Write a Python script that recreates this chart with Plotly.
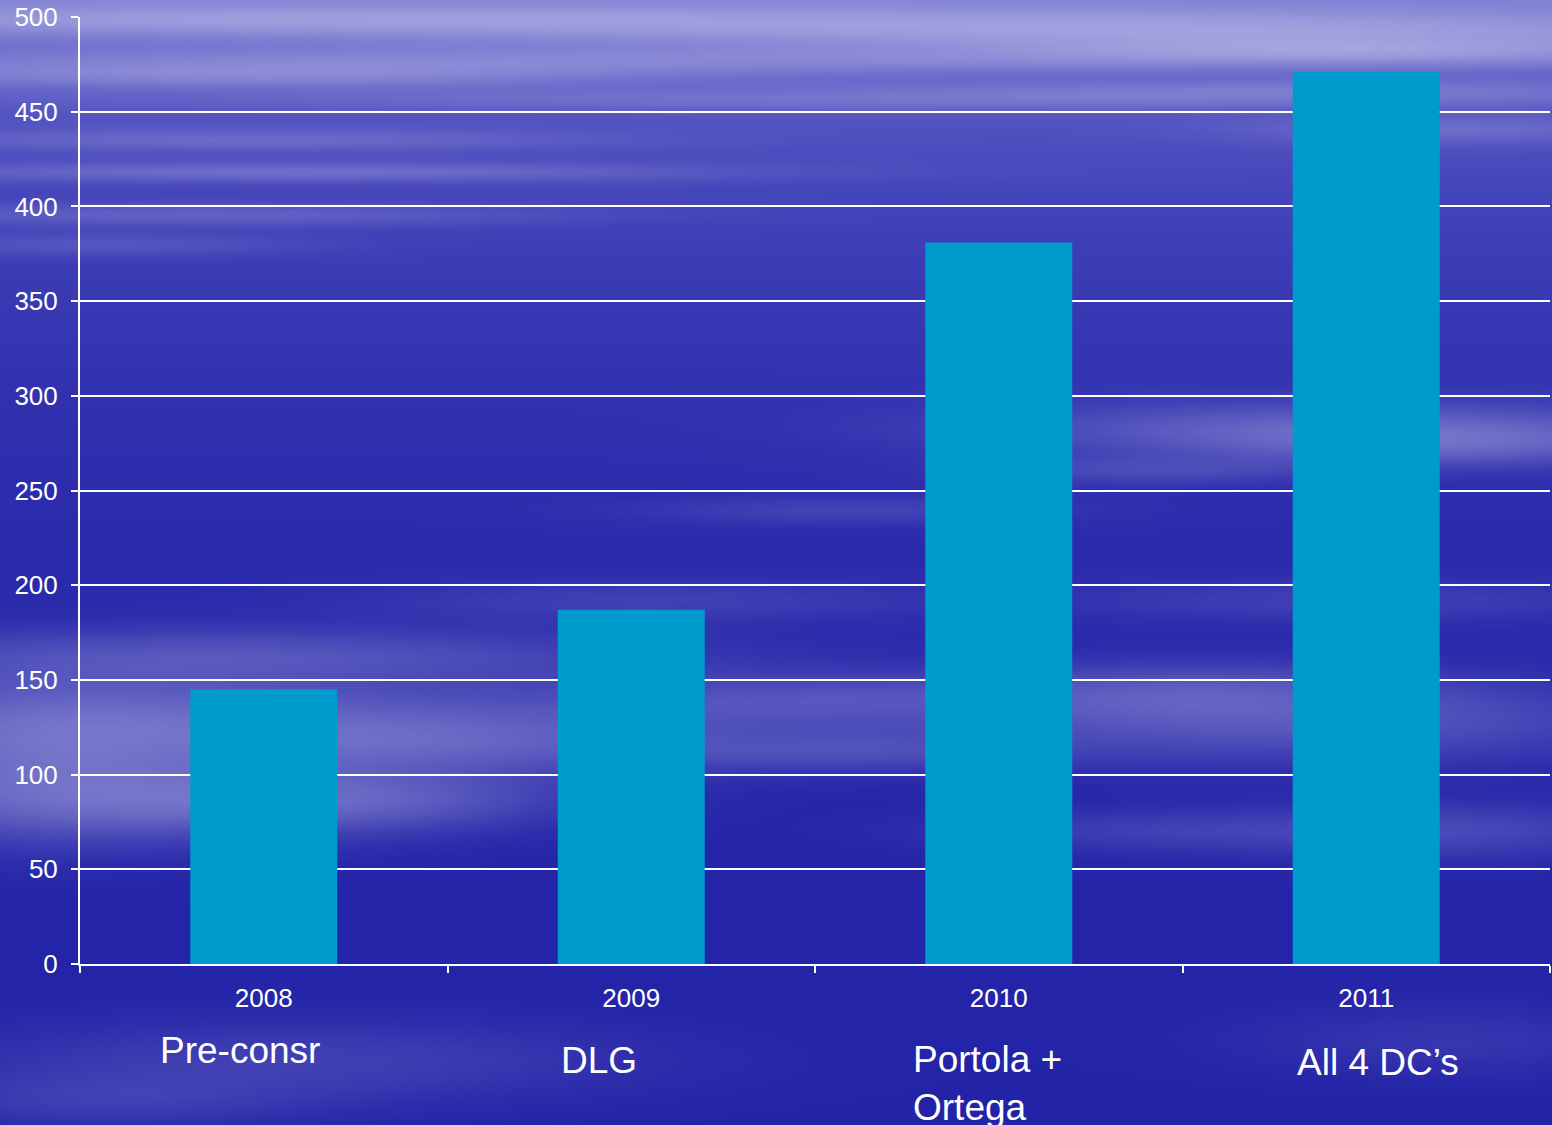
import base64
import struct
import zlib

import numpy as np
import plotly.graph_objects as go

# ---- data -------------------------------------------------------------
years = ["2008", "2009", "2010", "2011"]
values = [145, 187, 381, 471]
phase_labels = ["Pre-consr", "DLG", "Portola +<br>Ortega", "All 4 DC\u2019s"]

# ---- page geometry ----------------------------------------------------
W, H = 1552, 1125
M_L, M_R, M_T, M_B = 80, 2, 17, 161
PLOT_W = W - M_L - M_R
PLOT_H = H - M_T - M_B
FONT = "Arial, Liberation Sans, sans-serif"


def sky_background(scale=2):
    """Blue backdrop with soft horizontal cloud streaks, returned as a PNG data URI."""
    w, h = W // scale, H // scale
    ys = (np.arange(h) + 0.5) * scale
    xs = (np.arange(w) + 0.5) * scale
    X, Y = np.meshgrid(xs, ys)

    # vertical base gradient
    stops_y = [0, 120, 250, 450, 700, 1125]
    stops_c = [(92, 92, 200), (74, 74, 190), (60, 60, 182),
               (46, 46, 174), (38, 38, 170), (35, 35, 168)]
    base = np.stack([np.interp(ys, stops_y, [c[i] for c in stops_c]) for i in range(3)], axis=-1)
    base = np.broadcast_to(base[:, None, :], (h, w, 3)).astype(float)

    # cloud streaks: centre x, centre y, spread x, spread y, strength
    streaks = [
        (300, 20, 500, 12, 0.35), (1200, 30, 500, 15, 0.40), (700, 60, 600, 10, 0.25),
        (250, 75, 300, 10, 0.30), (1350, 50, 250, 10, 0.35), (900, 100, 500, 8, 0.20),
        (250, 140, 250, 8, 0.20), (300, 172, 300, 7, 0.25), (200, 215, 250, 8, 0.20),
        (100, 245, 150, 8, 0.15), (1450, 130, 150, 10, 0.20), (1300, 90, 300, 8, 0.20),
        (1350, 430, 250, 20, 0.30), (1450, 445, 150, 15, 0.20), (1150, 470, 120, 10, 0.15),
        (250, 655, 300, 20, 0.22), (150, 720, 250, 35, 0.30), (450, 740, 200, 25, 0.26),
        (150, 800, 200, 30, 0.28), (350, 800, 150, 20, 0.22), (30, 760, 120, 50, 0.22),
        (800, 700, 200, 20, 0.22), (850, 750, 150, 15, 0.18), (650, 600, 200, 15, 0.13),
        (1300, 720, 250, 30, 0.26), (1200, 690, 150, 20, 0.18), (1450, 830, 150, 20, 0.18),
        (1150, 830, 150, 15, 0.13), (1350, 600, 200, 15, 0.13), (850, 510, 150, 10, 0.13),
        (300, 1060, 250, 30, 0.15), (100, 1100, 150, 20, 0.12), (1450, 1040, 150, 25, 0.10),
    ]
    keep = np.ones((h, w))
    for cx, cy, sx, sy, a in streaks:
        g = np.exp(-(((X - cx) / sx) ** 2 + ((Y - cy) / sy) ** 2) / 2)
        keep *= 1 - a * g
    keep *= 1 - 0.25 * np.exp(-Y / 80)
    alpha = (1 - keep)[..., None]
    white = np.array([225, 225, 245], dtype=float)
    img = base * (1 - alpha) + white * alpha
    arr = np.clip(img, 0, 255).astype(np.uint8)

    raw = b"".join(b"\x00" + arr[r].tobytes() for r in range(h))

    def chunk(tag, data):
        return (struct.pack(">I", len(data)) + tag + data
                + struct.pack(">I", zlib.crc32(tag + data) & 0xFFFFFFFF))

    png = (b"\x89PNG\r\n\x1a\n"
           + chunk(b"IHDR", struct.pack(">IIBBBBB", w, h, 8, 2, 0, 0, 0))
           + chunk(b"IDAT", zlib.compress(raw, 9))
           + chunk(b"IEND", b""))
    return "data:image/png;base64," + base64.b64encode(png).decode()


fig = go.Figure(
    go.Bar(x=years, y=values, marker=dict(color="#009BCD", line=dict(width=0)))
)

# phase labels under each year (x given as category index)
label_offsets = [(-24, "center", 86), (-72, "left", 96), (-88, "left", 119), (-71, "left", 98)]
for i, (text, (dx, anchor, dy)) in enumerate(zip(phase_labels, label_offsets)):
    fig.add_annotation(
        x=i, xref="x", y=0, yref="paper", text=text, showarrow=False,
        xanchor=anchor, yanchor="middle", xshift=dx, yshift=-dy, align="left",
        font=dict(family=FONT, size=37, color="white"),
    )

fig.update_layout(
    width=W, height=H,
    margin=dict(l=M_L, r=M_R, t=M_T, b=M_B),
    paper_bgcolor="#2828aa",
    plot_bgcolor="rgba(0,0,0,0)",
    bargap=0.6,
    showlegend=False,
    font=dict(family=FONT, color="white"),
    images=[dict(
        source=sky_background(), xref="paper", yref="paper",
        x=-M_L / PLOT_W, y=1 + M_T / PLOT_H,
        sizex=W / PLOT_W, sizey=H / PLOT_H,
        xanchor="left", yanchor="top", sizing="stretch", layer="below",
    )],
)
fig.update_xaxes(
    type="category", categoryorder="array", categoryarray=years,
    range=[-0.5, len(years) - 0.5],
    showline=True, linecolor="white", linewidth=2,
    ticks="outside", tickson="boundaries", ticklen=7, tickwidth=2, tickcolor="white",
    tickfont=dict(family=FONT, size=26, color="white"), tickangle=0, showgrid=False,
    ticklabelstandoff=10,
)
fig.update_yaxes(
    range=[0, 500], dtick=50, showline=True, linecolor="white", linewidth=2,
    ticks="outside", ticklen=7, tickwidth=2, tickcolor="white",
    showgrid=True, gridcolor="white", gridwidth=2, zeroline=False,
    tickfont=dict(family=FONT, size=26, color="white"), ticklabelstandoff=8,
)

fig.write_html("out.html")
